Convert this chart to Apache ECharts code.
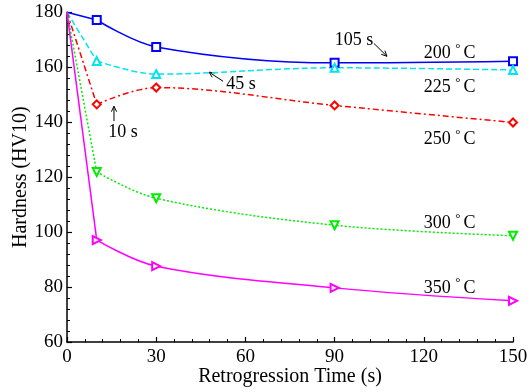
<!DOCTYPE html>
<html><head><meta charset="utf-8">
<script src="https://cdn.jsdelivr.net/npm/echarts@6/dist/echarts.min.js"></script>
<style>html,body{margin:0;padding:0;background:#fff}#c{width:531px;height:392px}</style>
</head><body><div id="c"></div>
<script>
const times = [0, 10, 30, 90, 150];
const h200 = [180, 177.2, 167.4, 161.6, 162.2];
const h225 = [180, 162.3, 157.5, 159.8, 159.0];
const h250 = [180, 146.5, 152.6, 146.1, 139.9];
const h300 = [180, 121.9, 112.3, 102.5, 98.7];
const h350 = [180, 97.1, 87.6, 79.7, 75.0];
const xTicks = [0, 30, 60, 90, 120, 150];
const yTicks = [60, 80, 100, 120, 140, 160, 180];
const seriesNames = ['200', '225', '250', '300', '350'];
// label anchor (data coords)
const labelX = 120;
const labelY = [165.5, 153.1, 134.2, 103.6, 80];
// annotations: text, text pos (data), arrow from, arrow to (data)
const annText = ['10 s', '45 s', '105 s'];
const annPos = [[18.8, 136.4], [58.5, 153.8], [96.5, 169.8]];
const annFrom = [[15.8, 140.4], [52.5, 154.9], [103.2, 168.7]];
const annTo = [[15.8, 145.8], [47.8, 158.2], [107.6, 164.0]];

const FONT = 'Liberation Serif';
const pairs = arr => times.map((t, i) => [t, arr[i]]);
function mk(name, data, color, symbol, rot, type) {
  const pts = pairs(data);
  const ls = { color, width: 1.5, type };
  return [{
    name, type: 'line', data: pts.slice(0, 2), smooth: false, symbol: 'none',
    lineStyle: ls, z: 3
  }, {
    name, type: 'line', data: pts.slice(1), smooth: 0.35,
    symbol, symbolSize: 8, symbolRotate: rot, showSymbol: true,
    lineStyle: ls,
    itemStyle: { color, borderColor: color, borderWidth: 1.5 },
    z: 3
  }];
}
const chart = echarts.init(document.getElementById('c'));
const option = {
  animation: false,
  backgroundColor: '#fff',
  grid: { left: 67, right: 18, top: 12.3, bottom: 50, containLabel: false, outerBoundsMode: 'none' },
  xAxis: {
    type: 'value', min: 0, max: 150, interval: 30,
    name: 'Retrogression Time (s)', nameLocation: 'middle', nameGap: 25, nameMoveOverlap: false,
    nameTextStyle: { fontFamily: FONT, fontSize: 20, color: '#000', verticalAlign: 'top' },
    axisLine: { show: true, lineStyle: { color: '#000', width: 1.5 } },
    axisTick: { show: true, inside: true, length: 5, lineStyle: { color: '#000', width: 1.2 } },
    minorTick: { show: true, splitNumber: 5, length: 3, lineStyle: { color: '#000', width: 1 } },
    axisLabel: { fontFamily: FONT, fontSize: 19, color: '#000', margin: 6 },
    splitLine: { show: false }
  },
  yAxis: {
    type: 'value', min: 60, max: 180, interval: 20,
    name: 'Hardness (HV10)', nameLocation: 'middle', nameGap: 36, nameMoveOverlap: false,
    nameTextStyle: { fontFamily: FONT, fontSize: 20, color: '#000' },
    axisLine: { show: true, lineStyle: { color: '#000', width: 1.5 } },
    axisTick: { show: true, inside: true, length: 5, lineStyle: { color: '#000', width: 1.2 } },
    minorTick: { show: true, splitNumber: 5, length: 3, lineStyle: { color: '#000', width: 1 } },
    axisLabel: { fontFamily: FONT, fontSize: 19, color: '#000', margin: 4 },
    splitLine: { show: false }
  },
  series: [].concat(
    mk('200', h200, '#0000ff', 'emptyRect', 0, 'solid'),
    mk('225', h225, '#00e5ee', 'emptyTriangle', 0, [6, 3]),
    mk('250', h250, '#ff0000', 'emptyDiamond', 0, [6, 3, 2, 3]),
    mk('300', h300, '#00ee00', 'emptyTriangle', 180, [2, 2]),
    mk('350', h350, '#ff00ff', 'emptyTriangle', -90, 'solid')
  )
};
chart.setOption(option);

function px(p) { return chart.convertToPixel({ gridIndex: 0 }, p); }
const g = [];
seriesNames.forEach((n, i) => {
  const p = px([labelX, labelY[i]]);
  g.push({
    type: 'text', x: p[0], y: p[1],
    style: {
      text: '{a|' + n + ' }{b|°}{a|C}',
      rich: {
        a: { fontFamily: FONT, fontSize: 18, fill: '#000', verticalAlign: 'bottom' },
        b: { fontFamily: FONT, fontSize: 13, fill: '#000', verticalAlign: 'top', padding: [0, 3, 8, 0] }
      },
      textAlign: 'left', textVerticalAlign: 'middle'
    }
  });
});
annText.forEach((t, i) => {
  const p = px(annPos[i]);
  g.push({ type: 'text', x: p[0], y: p[1], style: { text: t, fontFamily: FONT, fontSize: 18, fill: '#000', textAlign: 'center', textVerticalAlign: 'middle' } });
  const a = px(annFrom[i]), b = px(annTo[i]);
  g.push({ type: 'line', shape: { x1: a[0], y1: a[1], x2: b[0], y2: b[1] }, style: { stroke: '#000', lineWidth: 1 } });
  const ang = Math.atan2(b[1] - a[1], b[0] - a[0]);
  const L = 6, w = 0.45;
  g.push({ type: 'polyline', shape: { points: [
    [b[0] - L * Math.cos(ang - w), b[1] - L * Math.sin(ang - w)],
    [b[0], b[1]],
    [b[0] - L * Math.cos(ang + w), b[1] - L * Math.sin(ang + w)]
  ] }, style: { stroke: '#000', lineWidth: 1, fill: null } });
});
chart.setOption({ graphic: g });
</script></body></html>
